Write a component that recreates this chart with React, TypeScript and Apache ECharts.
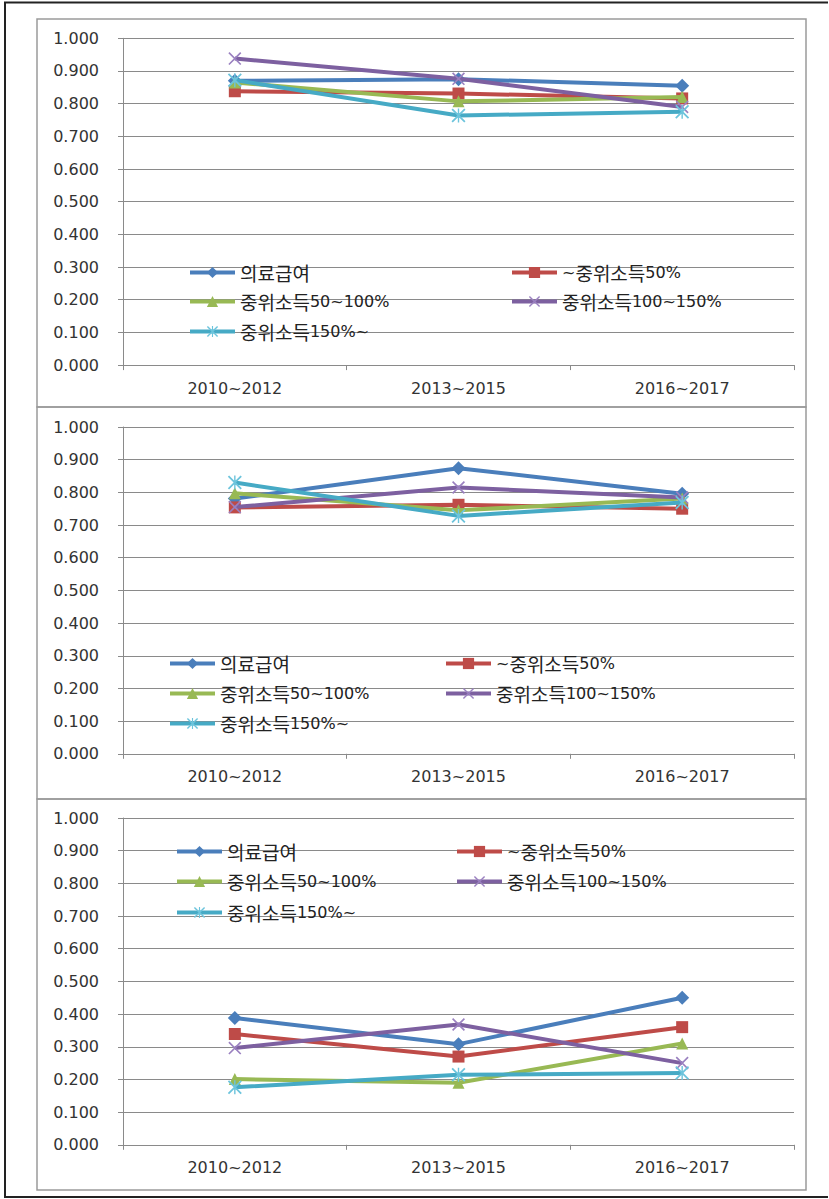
import React, { useEffect, useRef } from "react";
import * as echarts from "echarts";

// Period categories on the x axis
const categories = ["2010~2012", "2013~2015", "2016~2017"];

// Income groups (legend order)
const groupNames = ["의료급여", "~중위소득50%", "중위소득50~100%", "중위소득100~150%", "중위소득150%~"];

// Values per group, upper panel
const upperMedicalAid = [0.87, 0.875, 0.855];
const upperBelow50 = [0.838, 0.831, 0.816];
const upper50to100 = [0.865, 0.807, 0.82];
const upper100to150 = [0.938, 0.876, 0.79];
const upperAbove150 = [0.872, 0.764, 0.775];

// Values per group, middle panel
const middleMedicalAid = [0.781, 0.874, 0.796];
const middleBelow50 = [0.754, 0.762, 0.75];
const middle50to100 = [0.797, 0.745, 0.781];
const middle100to150 = [0.755, 0.815, 0.784];
const middleAbove150 = [0.83, 0.728, 0.769];

// Values per group, lower panel
const lowerMedicalAid = [0.388, 0.308, 0.45];
const lowerBelow50 = [0.339, 0.27, 0.36];
const lower50to100 = [0.201, 0.19, 0.31];
const lower100to150 = [0.296, 0.368, 0.25];
const lowerAbove150 = [0.176, 0.214, 0.22];

const panelValues = [
  [upperMedicalAid, upperBelow50, upper50to100, upper100to150, upperAbove150],
  [middleMedicalAid, middleBelow50, middle50to100, middle100to150, middleAbove150],
  [lowerMedicalAid, lowerBelow50, lower50to100, lower100to150, lowerAbove150],
];

const lineColors = ["#4a7ebb", "#be4b48", "#98b954", "#7d60a0", "#46aac5"];
const markerColors = ["#4a7ebb", "#be4b48", "#98b954", "#9a80c0", "#6cc4dc"];

const X_MARK = "path://M0,0.9L0.9,0L10,9.1L9.1,10Z M9.1,0L10,0.9L0.9,10L0,9.1Z";
const STAR_MARK =
  "path://M0,0.9L0.9,0L10,9.1L9.1,10Z M9.1,0L10,0.9L0.9,10L0,9.1Z M4.5,0L5.5,0L5.5,10L4.5,10Z";
const symbols = ["diamond", "rect", "triangle", X_MARK, STAR_MARK];
const symbolSizes = [14, 12, 12, 13, 14];

// Plot areas (page pixels)
const PLOT_LEFT = 123;
const PLOT_RIGHT = 35;
const plotTops = [38.3, 427, 818];
const PLOT_HEIGHT = 326.8;

// Framed chart boxes
const frameTops = [19, 407, 799];
const frameBottoms = [407, 799, 1190];

// Legend placement per panel
const legendCols = [
  [188, 510],
  [168, 444],
  [175, 455],
];
const legendRows = [
  [274, 303, 333],
  [665, 695, 725],
  [853, 883, 914],
];

const FONT = "'DejaVu Sans', Verdana, sans-serif";
const KFONT = "'Noto Sans CJK KR', sans-serif";

function buildOption(): echarts.EChartsOption {
  const grid: any[] = [];
  const xAxis: any[] = [];
  const yAxis: any[] = [];
  const series: any[] = [];
  const legend: any[] = [];

  plotTops.forEach((top, p) => {
    grid.push({ left: PLOT_LEFT, right: PLOT_RIGHT, top, height: PLOT_HEIGHT, containLabel: false });
    xAxis.push({
      type: "category",
      gridIndex: p,
      data: categories,
      boundaryGap: true,
      axisLine: { show: true, lineStyle: { color: "#8a8a8a", width: 1 } },
      axisTick: { show: true, length: 5, inside: false, lineStyle: { color: "#8a8a8a" } },
      axisLabel: { color: "#333333", fontFamily: FONT, fontSize: 16, margin: 15 },
      splitLine: { show: false },
    });
    yAxis.push({
      type: "value",
      gridIndex: p,
      min: 0,
      max: 1,
      interval: 0.1,
      axisLine: { show: true, lineStyle: { color: "#8a8a8a", width: 1 } },
      axisTick: { show: true, length: 5, lineStyle: { color: "#8a8a8a" } },
      axisLabel: {
        color: "#333333",
        fontFamily: FONT,
        fontSize: 16,
        margin: 24,
        formatter: (v: number) => v.toFixed(3),
      },
      splitLine: { show: true, lineStyle: { color: "#8a8a8a", width: 1 } },
    });

    panelValues[p].forEach((vals, i) => {
      series.push({
        type: "line",
        name: groupNames[i],
        xAxisIndex: p,
        yAxisIndex: p,
        data: vals,
        symbol: symbols[i],
        symbolSize: symbolSizes[i],
        showAllSymbol: true,
        lineStyle: { color: lineColors[i], width: 4 },
        itemStyle: { color: markerColors[i] },
        z: 2 + i,
      });
      const col = i % 2;
      const row = Math.floor(i / 2);
      legend.push({
        data: [groupNames[i]],
        left: legendCols[p][col],
        top: legendRows[p][row] - 11,
        padding: 0,
        itemWidth: 45,
        itemHeight: 14,
        selectedMode: false,
        lineStyle: { width: 4 },
        formatter: (name: string) => name.replace(/[가-힣]+/g, (m) => `{k|${m}}`),
        textStyle: {
          color: "#222222",
          fontFamily: FONT,
          fontSize: 16,
          rich: { k: { fontFamily: KFONT, fontSize: 19, color: "#222222" } },
        },
      });
    });
  });

  const graphic: any[] = [];
  frameTops.forEach((t, p) => {
    graphic.push({
      type: "rect",
      shape: { x: 37, y: t, width: 769, height: frameBottoms[p] - t },
      style: { fill: "none", stroke: "#9a9a9a", lineWidth: 1.5 },
      silent: true,
      z: -1,
    });
  });
  // Outer page frame
  graphic.push(
    { type: "line", shape: { x1: 4, y1: 2.5, x2: 828, y2: 2.5 }, style: { stroke: "#222", lineWidth: 2 }, silent: true },
    { type: "line", shape: { x1: 5, y1: 2, x2: 5, y2: 1198 }, style: { stroke: "#222", lineWidth: 2 }, silent: true },
    { type: "line", shape: { x1: 4, y1: 1197, x2: 828, y2: 1197 }, style: { stroke: "#222", lineWidth: 2 }, silent: true }
  );

  return {
    animation: false,
    backgroundColor: "#ffffff",
    grid,
    xAxis,
    yAxis,
    series,
    legend,
    graphic,
  };
}

export default function App() {
  const ref = useRef<HTMLDivElement>(null);
  useEffect(() => {
    if (!ref.current) return;
    const chart = echarts.init(ref.current, null, { renderer: "svg" });
    chart.setOption(buildOption());
    return () => chart.dispose();
  }, []);
  return (
    <div
      ref={ref}
      style={{ position: "absolute", left: 0, top: 0, width: 829, height: 1199, background: "#fff" }}
    />
  );
}
